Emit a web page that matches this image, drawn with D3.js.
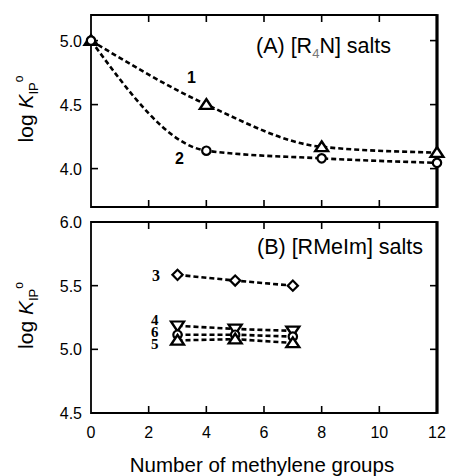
<!DOCTYPE html>
<html>
<head>
<meta charset="utf-8">
<script src="https://cdn.jsdelivr.net/npm/d3@7"></script>
<style>
  body { margin: 0; background: #fff; }
  svg { display: block; font-family: "Liberation Sans", Arial, sans-serif; }
</style>
</head>
<body>
<svg id="chart" width="449" height="476"></svg>
<script>
// panel A: [R4N] salts
const xA = [0, 4, 8, 12];
const s1 = [5.0, 4.5, 4.17, 4.125];
const s2 = [5.0, 4.14, 4.08, 4.045];

// panel B: [RMeIm] salts
const xB = [3, 5, 7];
const s3 = [5.585, 5.54, 5.5];
const s4 = [5.185, 5.16, 5.145];
const s6 = [5.115, 5.115, 5.1];
const s5 = [5.07, 5.08, 5.05];

const xTicks = [0, 2, 4, 6, 8, 10, 12];
const yTicksA = [4.0, 4.5, 5.0];
const yTicksB = [4.5, 5.0, 5.5, 6.0];

const svg = d3.select('#chart');
const L = 91, R = 437;
const x = d3.scaleLinear().domain([0, 12]).range([L, R]);

const panels = [
  { top: 15, bottom: 207, domain: [3.7, 5.2], ticks: yTicksA, xLabels: false },
  { top: 222, bottom: 413, domain: [4.5, 6.0], ticks: yTicksB, xLabels: true }
];

function drawPanel(p) {
  const y = d3.scaleLinear().domain(p.domain).range([p.bottom, p.top]);
  const g = svg.append('g');

  // ticks point inward on all four sides
  const tl = 7;
  const inner = xTicks.slice(1, -1);
  g.selectAll('.xt').data(inner).enter().append('line')
    .attr('x1', d => x(d)).attr('x2', d => x(d))
    .attr('y1', p.top).attr('y2', p.top + tl)
    .attr('stroke', '#000').attr('stroke-width', 1.6);
  g.selectAll('.xb').data(inner).enter().append('line')
    .attr('x1', d => x(d)).attr('x2', d => x(d))
    .attr('y1', p.bottom).attr('y2', p.bottom - tl)
    .attr('stroke', '#000').attr('stroke-width', 1.6);
  g.selectAll('.yl').data(p.ticks).enter().append('line')
    .attr('x1', L).attr('x2', L + tl)
    .attr('y1', d => y(d)).attr('y2', d => y(d))
    .attr('stroke', '#000').attr('stroke-width', 1.6);
  g.selectAll('.yr').data(p.ticks).enter().append('line')
    .attr('x1', R).attr('x2', R - tl)
    .attr('y1', d => y(d)).attr('y2', d => y(d))
    .attr('stroke', '#000').attr('stroke-width', 1.6);

  // frame, heavier on the right
  g.append('path')
    .attr('d', `M${R},${p.top}H${L}V${p.bottom}H${R}`)
    .attr('fill', 'none').attr('stroke', '#000').attr('stroke-width', 1.8);
  g.append('line')
    .attr('x1', R).attr('x2', R).attr('y1', p.top - 0.9).attr('y2', p.bottom + 0.9)
    .attr('stroke', '#000').attr('stroke-width', 3.2);

  g.selectAll('.ylab').data(p.ticks).enter().append('text')
    .attr('x', L - 9).attr('y', d => y(d) + 6)
    .attr('text-anchor', 'end').attr('font-size', 16)
    .text(d => d3.format('.1f')(d));

  if (p.xLabels) {
    g.selectAll('.xlab').data(xTicks).enter().append('text')
      .attr('x', d => x(d)).attr('y', p.bottom + 25)
      .attr('text-anchor', 'middle').attr('font-size', 16)
      .text(d => d);
  }

  // y axis title: log K_IP^0
  const yl = g.append('text')
    .attr('transform', `translate(33,${(p.top + p.bottom) / 2 - 2}) rotate(-90)`)
    .attr('text-anchor', 'middle').attr('font-size', 21);
  yl.append('tspan').text('log ');
  yl.append('tspan').attr('font-style', 'italic').text('K');
  yl.append('tspan').attr('font-size', 13).attr('dy', 5).text('IP');
  yl.append('tspan').attr('font-size', 12).attr('dy', -15).text('o');

  return y;
}

const yA = drawPanel(panels[0]);
const yB = drawPanel(panels[1]);

function series(xs, ys, yScale, curve, marker) {
  const pts = xs.map((d, i) => [d, ys[i]]);
  const line = d3.line().x(d => x(d[0])).y(d => yScale(d[1])).curve(curve);
  svg.append('path').datum(pts)
    .attr('d', line)
    .attr('fill', 'none').attr('stroke', '#000')
    .attr('stroke-width', 2.6).attr('stroke-dasharray', '5,3');
  const sym = d3.symbol().type(marker.type).size(marker.size);
  svg.selectAll(null).data(pts).enter().append('path')
    .attr('d', sym)
    .attr('transform', d => `translate(${x(d[0])},${yScale(d[1]) + (marker.dy || 0)}) rotate(${marker.rot || 0}) scale(${marker.sx || 1},1)`)
    .attr('fill', 'white').attr('stroke', '#000').attr('stroke-width', 2.2);
}

const triUp = { type: d3.symbolTriangle, size: 55, dy: 1, sx: 1.15 };
const triDown = { type: d3.symbolTriangle, size: 55, rot: 180, dy: -1, sx: 1.15 };
const circ = { type: d3.symbolCircle, size: 55 };
const diam = { type: d3.symbolSquare, size: 52, rot: 45 };

series(xA, s1, yA, d3.curveMonotoneX, triUp);
series(xA, s2, yA, d3.curveMonotoneX, circ);

series(xB, s3, yB, d3.curveLinear, diam);
series(xB, s4, yB, d3.curveLinear, triDown);
series(xB, s6, yB, d3.curveLinear, circ);
series(xB, s5, yB, d3.curveLinear, triUp);

// panel titles
const tA = svg.append('text').attr('x', 256).attr('y', 53).attr('font-size', 21.5);
tA.append('tspan').text('(A) [R');
tA.append('tspan').attr('font-size', 13).attr('dy', 5).attr('fill', '#777').text('4');
tA.append('tspan').attr('dy', -5).text('N] salts');
svg.append('text').attr('x', 257).attr('y', 254).attr('font-size', 21.5)
  .text('(B) [RMeIm] salts');

// series numbers
svg.append('text').attr('x', 187).attr('y', 83).attr('font-size', 16)
  .attr('font-weight', 'bold').text('1');
svg.append('text').attr('x', 175).attr('y', 164).attr('font-size', 16)
  .attr('font-weight', 'bold').text('2');
const serif = '"Liberation Serif", "Times New Roman", serif';
[['3', 152, 281, 16], ['4', 151, 325, 15], ['6', 151, 337, 15], ['5', 151, 349, 15]].forEach(d => {
  svg.append('text').attr('x', d[1]).attr('y', d[2]).attr('font-size', d[3])
    .attr('font-weight', 'bold').attr('font-family', serif).text(d[0]);
});

// x axis title
svg.append('text').attr('x', 262).attr('y', 472).attr('text-anchor', 'middle')
  .attr('font-size', 20.5).text('Number of methylene groups');
</script>
</body>
</html>
